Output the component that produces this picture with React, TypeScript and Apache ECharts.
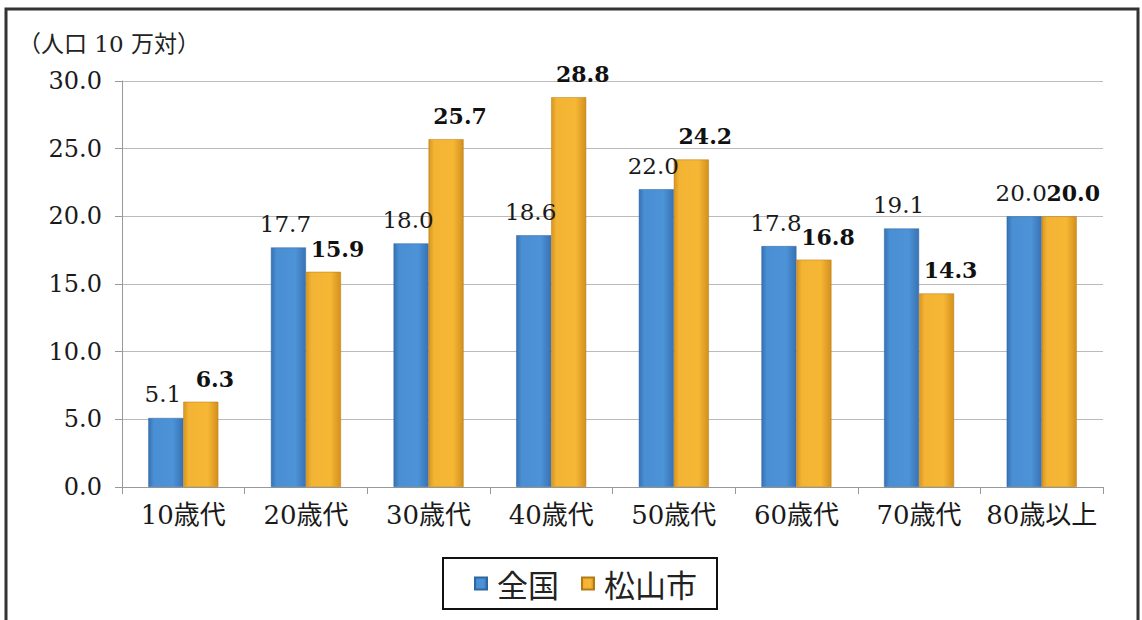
import React, { useEffect, useRef } from "react";
import * as echarts from "echarts";

const categories = ["10歳代", "20歳代", "30歳代", "40歳代", "50歳代", "60歳代", "70歳代", "80歳以上"];
const nationalValues = [5.1, 17.7, 18.0, 18.6, 22.0, 17.8, 19.1, 20.0];
const matsuyamaValues = [6.3, 15.9, 25.7, 28.8, 24.2, 16.8, 14.3, 20.0];
const seriesNames = ["全国", "松山市"];
const unitLabel = "（人口 10 万対）";

const SERIF = "'DejaVu Serif', 'Noto Sans CJK JP', serif";

export default function App() {
  const ref = useRef<HTMLDivElement>(null);
  useEffect(() => {
    document.body.style.margin = "0";
    const chart = echarts.init(ref.current!, null, { renderer: "svg" });
    const blue = new echarts.graphic.LinearGradient(0, 0, 1, 0, [
      { offset: 0, color: "#3572b3" },
      { offset: 0.15, color: "#4a8ed3" },
      { offset: 0.7, color: "#4d93d8" },
      { offset: 1, color: "#3773b4" },
    ]);
    const orange = new echarts.graphic.LinearGradient(0, 0, 1, 0, [
      { offset: 0, color: "#d9961f" },
      { offset: 0.15, color: "#f3b334" },
      { offset: 0.7, color: "#f6b735" },
      { offset: 1, color: "#d4901c" },
    ]);
    chart.setOption({
      animation: false,
      backgroundColor: "#ffffff",
      grid: { left: 122, right: 39, top: 81, bottom: 133, containLabel: false },
      legend: {
        data: seriesNames,
        left: 443,
        top: 558,
        padding: [10, 20, 10, 31],
        borderColor: "#111",
        borderWidth: 2,
        itemWidth: 12,
        itemHeight: 12,
        itemGap: 22,
        icon: "rect",
        textStyle: {
          fontFamily: "'Noto Sans CJK JP', sans-serif",
          fontSize: 31,
          color: "#222",
          padding: [0, 0, 0, 5],
        },
      },
      graphic: [
        {
          type: "rect",
          shape: { x: 6, y: 9, width: 1132, height: 640 },
          style: { fill: "none", stroke: "#333", lineWidth: 3 },
          silent: true,
        },
        {
          type: "text",
          left: 18,
          top: 32,
          style: { text: unitLabel, font: `23px ${SERIF}`, fill: "#222" },
        },
      ],
      xAxis: {
        type: "category",
        data: categories,
        axisLine: { show: true, lineStyle: { color: "#999", width: 1 } },
        axisTick: { show: true, length: 7, lineStyle: { color: "#999" } },
        axisLabel: { fontFamily: SERIF, fontSize: 26, color: "#1a1a1a", margin: 15, interval: 0 },
      },
      yAxis: {
        type: "value",
        min: 0,
        max: 30,
        interval: 5,
        axisLine: { show: true, lineStyle: { color: "#999", width: 1 } },
        axisTick: { show: true, length: 7, lineStyle: { color: "#999" } },
        splitLine: { lineStyle: { color: "#bbb", width: 1 } },
        axisLabel: {
          fontFamily: SERIF,
          fontSize: 24,
          color: "#1a1a1a",
          margin: 20,
          formatter: (v: number) => v.toFixed(1),
        },
      },
      series: [
        {
          name: seriesNames[0],
          type: "bar",
          data: nationalValues,
          barWidth: 35,
          barGap: "0%",
          itemStyle: { color: blue, borderColor: "#2e66a0", borderWidth: 0.5 },
          label: {
            show: true,
            position: "top",
            distance: 12,
            offset: [-3, 0],
            fontFamily: SERIF,
            fontSize: 23,
            color: "#1a1a1a",
            formatter: (p: any) => p.value.toFixed(1),
          },
        },
        {
          name: seriesNames[1],
          type: "bar",
          data: matsuyamaValues,
          barWidth: 35,
          barGap: "0%",
          itemStyle: { color: orange, borderColor: "#b57a15", borderWidth: 0.5 },
          label: {
            show: true,
            position: "top",
            distance: 12,
            offset: [14, 0],
            fontFamily: SERIF,
            fontSize: 22,
            fontWeight: "bold",
            color: "#111",
            formatter: (p: any) => p.value.toFixed(1),
          },
        },
      ],
    });
    return () => chart.dispose();
  }, []);
  return <div ref={ref} style={{ width: 1142, height: 620, position: "absolute", left: 0, top: 0 }} />;
}
